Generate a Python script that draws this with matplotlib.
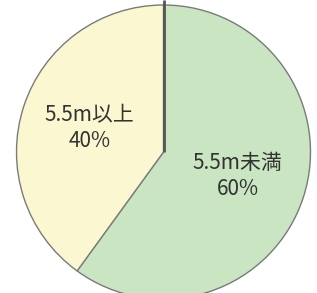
import matplotlib
matplotlib.use("Agg")
import matplotlib.pyplot as plt

plt.rcParams['font.family'] = ['Noto Sans CJK JP', 'DejaVu Sans']

# data
labels = ["5.5m未満", "5.5m以上"]
shares = [60, 40]
colors = ["#c9e5c1", "#fbf8d1"]

W, H = 317, 293
CX, CY, R = 163.5, 141.0, 147.0

fig = plt.figure(figsize=(W / 100, H / 100), dpi=100)
ax = fig.add_axes([0, 0, 1, 1])
ax.set_xlim(0, W)
ax.set_ylim(0, H)
ax.axis("off")

texts = [f"{l}\n{v}%" for l, v in zip(labels, shares)]
wedges, lbls = ax.pie(
    shares, labels=texts, colors=colors, startangle=90, counterclock=False,
    center=(CX, CY), radius=R, labeldistance=0.53, frame=True,
    wedgeprops=dict(edgecolor="#7a7a7a", linewidth=1.0),
    textprops=dict(fontsize=15, color="#333333", ha="center", va="center",
                   linespacing=1.2),
)
ax.set_xlim(0, W)
ax.set_ylim(0, H)
ax.set_aspect("equal")
ax.axis("off")

# darker radius line at the start angle
ax.plot([CX, CX], [CY, H], color="#555555", lw=2.0, solid_capstyle="butt", zorder=5)

fig.savefig("out.png", dpi=100)
